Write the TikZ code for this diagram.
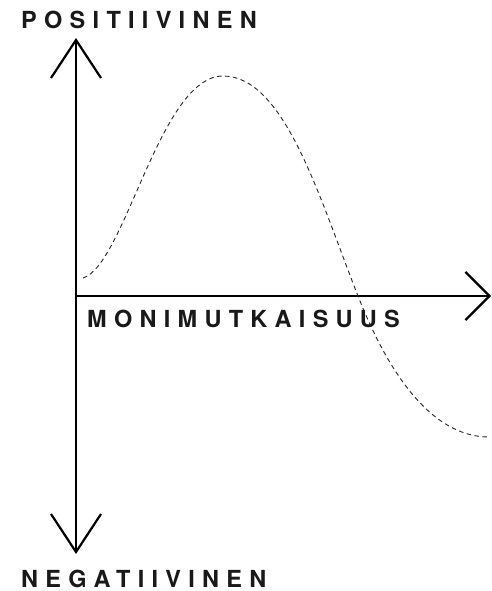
\documentclass[tikz,border=0pt]{standalone}
\usepackage{fontspec}
\setmainfont{TeX Gyre Heros}
\newfontfamily\axisfont{TeX Gyre Heros}[LetterSpace=31]
\usetikzlibrary{positioning,arrows.meta}

\begin{document}
\begin{tikzpicture}[
    x=1pt, y=-1pt,
    axis/.style={line width=2.6pt},
    vtip/.style={-{Straight Barb[length=38pt,width=50pt,line width=2.2pt]}},
    htip/.style={-{Straight Barb[length=24pt,width=48pt,line width=2.2pt]}},
    lbl/.style={inner sep=0pt, anchor=base west,
                font=\axisfont\bfseries\fontsize{23.5}{23.5}\selectfont, text=black!90},
    wave/.style={dashed, dash pattern=on 4.5pt off 3.5pt, line width=0.9pt, black!85},
  ]
    \useasboundingbox (0,0) rectangle (492,591);

    % ── Axes ─────────────────────────────────────────────────────────────
    \coordinate (o)   at (76,296);
    \coordinate (top) at (76,38);
    \coordinate (bot) at (76,554);
    \coordinate (rgt) at (491,296);

    \draw[axis, vtip] (o) -- (top);
    \draw[axis, vtip] (o) -- (bot);
    \draw[axis, htip] (o) -- (rgt);

    % ── Labels ───────────────────────────────────────────────────────────
    \node[lbl] (pos) at (21,28.5) {POSITIIVINEN};
    \node[lbl] (mon) at (87,327)  {MONIMUTKAISUUS};
    \node[lbl] (neg) at (21,587)  {NEGATIIVINEN};

    % ── Dashed curve ─────────────────────────────────────────────────────
    \coordinate (w0)   at (83,278);
    \coordinate (peak) at (223,76);
    \coordinate (wx)   at (358,296);
    \coordinate (w1)   at (489,437);
    \draw[wave] (w0) .. controls (125,265) and (160,76) .. (peak)
                     .. controls (285,76) and (320,200) .. (wx)
                     .. controls (395,390) and (440,437) .. (w1);
  \end{tikzpicture}
\end{document}
